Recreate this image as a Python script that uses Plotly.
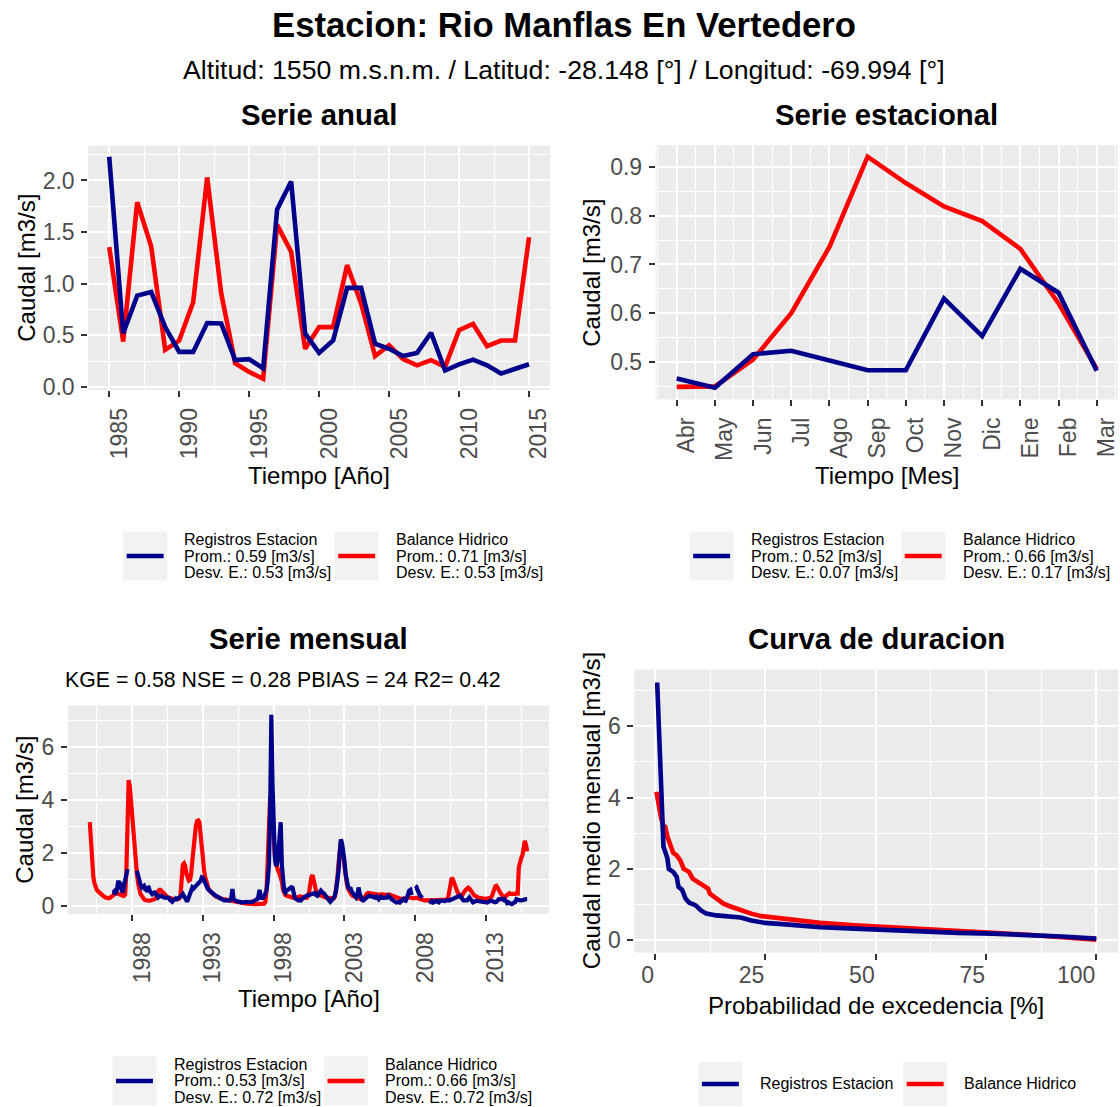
import plotly.graph_objects as go
import pandas as pd

W, H = 1120, 1107          # reference geometry (all positions below are in this pixel space)
FIG_H = 1118               # drawn canvas height (the photograph is rescaled to 1107)
BLUE = '#00008B'
RED = '#FF0000'
FONT = 'Liberation Sans, Arial, sans-serif'
PANEL_BG = '#EBEBEB'

# ---------------- data ----------------
years = list(range(1985, 2016))
annual_obs = [2.23, 0.52, 0.885, 0.92, 0.58, 0.34, 0.34, 0.62, 0.615, 0.26, 0.27, 0.18, 1.72, 1.99, 0.52, 0.33,
              0.45, 0.96, 0.96, 0.42, 0.37, 0.30, 0.33, 0.525, 0.16, 0.22, 0.265, 0.21, 0.13, 0.17, 0.22]
annual_sim = [1.355, 0.44, 1.79, 1.36, 0.36, 0.45, 0.82, 2.03, 0.91, 0.23, 0.146, 0.08, 1.57, 1.31, 0.37, 0.58,
              0.58, 1.18, 0.81, 0.30, 0.405, 0.27, 0.21, 0.26, 0.195, 0.55, 0.61, 0.395, 0.45, 0.45, 1.45]
annual_ticks = [1985, 1990, 1995, 2000, 2005, 2010, 2015]

season_labels = ['Abr', 'May', 'Jun', 'Jul', 'Ago', 'Sep', 'Oct', 'Nov', 'Dic', 'Ene', 'Feb', 'Mar']
season_obs = [0.466, 0.447, 0.516, 0.523, 0.503, 0.483, 0.483, 0.630, 0.553, 0.691, 0.642, 0.482]
season_sim = [0.449, 0.450, 0.505, 0.600, 0.736, 0.921, 0.867, 0.819, 0.789, 0.732, 0.620, 0.486]

N = None
monthly_obs = [
    N, N, N, N, N, N, N, N, N, N, N, N,                                        # 1985
    N, N, N, N, N, N, N, 0.5, 0.5, 0.55, 0.5, 0.6,                            # 1986
    0.88, 0.88, 0.84, 0.6, 0.5, 0.75, 0.95, 1.3, 1.38, N, N, N,               # 1987
    N, N, N, N, 1.32, 1.1, 0.94, 0.8, 0.69, 0.72, 0.75, 0.62,                 # 1988
    0.59, 0.68, 0.69, 0.55, 0.5, 0.44, 0.48, 0.5, 0.45, 0.38, 0.31, 0.35,     # 1989
    0.38, 0.36, 0.33, 0.31, 0.3, 0.31, 0.31, 0.3, 0.22, 0.18, 0.15, 0.2,      # 1990
    0.25, 0.28, 0.25, 0.28, 0.31, 0.31, 0.38, 0.44, 0.35, 0.3, 0.2, 0.2,      # 1991
    0.31, 0.4, 0.55, 0.69, 0.65, 0.7, 0.69, 0.75, 0.82, 0.88, 0.94, 1.07,     # 1992
    1.05, 0.95, 0.82, 0.72, 0.65, 0.6, 0.55, 0.5, 0.5, 0.45, 0.4, 0.38,       # 1993
    0.35, 0.33, 0.3, 0.28, 0.25, 0.22, 0.2, 0.2, 0.2, 0.19, 0.19, 0.2,        # 1994
    0.3, 0.63, 0.25, 0.2, 0.18, 0.17, 0.15, 0.15, 0.14, 0.13, 0.13, 0.15,     # 1995
    0.16, 0.15, 0.14, 0.13, 0.13, 0.15, 0.15, 0.17, 0.18, 0.2, 0.25, 0.35,    # 1996
    0.6, 0.3, 0.28, 0.3, 0.35, 0.45, 0.6, 0.95, 1.6, 3.6, 7.2, 4.6,           # 1997
    2.5, 1.8, 1.5, 1.6, 2.0, 2.8, 3.15, 1.5, 0.7, 0.55, 0.5, 0.6,             # 1998
    0.6, 0.65, 0.69, 0.7, 0.68, 0.4, 0.3, 0.25, 0.22, 0.2, 0.22, 0.2,         # 1999
    0.25, 0.3, 0.31, 0.35, 0.38, 0.4, 0.42, 0.44, 0.45, 0.48, 0.5, 0.48,      # 2000
    0.4, 0.38, 0.45, 0.52, 0.57, 0.52, 0.5, 0.45, 0.38, 0.3, 0.25, 0.2,       # 2001
    0.15, 0.18, 0.25, 0.31, 0.4, 0.6, 0.9, 1.3, 2.0, 2.5, 2.35, 2.1,          # 2002
    1.7, 1.2, 0.9, 0.75, 0.62, 0.69, 0.55, 0.5, 0.42, 0.35, 0.31, 0.4,        # 2003
    0.69, 0.45, 0.3, 0.22, 0.2, 0.25, 0.3, 0.31, 0.35, 0.38, 0.36, 0.35,      # 2004
    0.32, 0.3, 0.31, 0.35, 0.3, 0.25, 0.33, 0.35, 0.3, 0.28, 0.3, 0.31,       # 2005
    0.31, 0.38, 0.36, 0.3, 0.25, 0.22, 0.15, 0.13, 0.12, 0.13, 0.15, 0.12,    # 2006
    0.18, 0.22, 0.25, 0.2, 0.19, 0.3, 0.5, 0.57, 0.6, 0.4, N, N,              # 2007
    0.75, 0.72, 0.6, 0.45, 0.4, 0.35, 0.3, N, N, N, N, N,                     # 2008
    0.19, 0.15, 0.18, 0.12, 0.13, 0.17, 0.19, 0.15, 0.13, 0.19, 0.2, 0.17,    # 2009
    0.19, 0.18, 0.2, 0.2, 0.22, 0.2, 0.23, 0.25, 0.25, 0.28, 0.3, 0.31,       # 2010
    0.3, 0.35, 0.38, 0.3, 0.25, 0.2, 0.2, 0.18, 0.2, 0.25, 0.31, 0.25,        # 2011
    0.18, 0.13, 0.15, 0.19, 0.19, 0.18, 0.17, 0.19, 0.15, 0.13, 0.12, 0.13,   # 2012
    0.12, 0.12, 0.15, 0.19, 0.19, 0.18, 0.15, 0.12, 0.13, 0.15, 0.22, 0.25,   # 2013
    0.25, 0.28, 0.26, 0.22, 0.25, 0.18, 0.1, 0.13, 0.12, 0.08, 0.06, 0.1,     # 2014
    0.12, 0.15, 0.25, 0.22, 0.19, 0.2, 0.2, 0.22, 0.2, 0.22, 0.25, 0.25,      # 2015
]
monthly_sim = [
    3.15, 2.3, 1.6, 1.1, 0.85, 0.7, 0.6, 0.55, 0.5, 0.45, 0.4, 0.36,          # 1985
    0.35, 0.32, 0.3, 0.3, 0.28, 0.3, 0.32, 0.35, 0.4, 0.45, 0.5, 0.48,        # 1986
    0.45, 0.45, 0.42, 0.4, 0.38, 0.37, 0.42, 1.2, 3.3, 4.74, 4.5, 3.9,        # 1987
    3.4, 3.0, 2.3, 1.7, 1.2, 0.85, 0.6, 0.45, 0.38, 0.3, 0.25, 0.22,          # 1988
    0.2, 0.2, 0.19, 0.19, 0.2, 0.2, 0.22, 0.25, 0.3, 0.45, 0.55, 0.6,         # 1989
    0.6, 0.55, 0.5, 0.45, 0.4, 0.35, 0.32, 0.3, 0.28, 0.26, 0.25, 0.25,       # 1990
    0.25, 0.24, 0.24, 0.25, 0.28, 0.4, 1.0, 1.55, 1.6, 1.5, 1.2, 1.0,         # 1991
    0.95, 0.98, 1.2, 1.7, 2.2, 2.6, 3.0, 3.2, 3.22, 3.15, 2.6, 2.07,          # 1992
    1.6, 1.3, 1.07, 0.85, 0.7, 0.6, 0.55, 0.5, 0.45, 0.42, 0.38, 0.35,        # 1993
    0.33, 0.3, 0.28, 0.27, 0.26, 0.25, 0.24, 0.23, 0.22, 0.21, 0.2, 0.2,      # 1994
    0.18, 0.17, 0.16, 0.15, 0.14, 0.13, 0.12, 0.12, 0.11, 0.1, 0.1, 0.1,      # 1995
    0.09, 0.08, 0.08, 0.07, 0.07, 0.07, 0.06, 0.06, 0.06, 0.06, 0.06, 0.06,   # 1996
    0.05, 0.05, 0.05, 0.06, 0.08, 0.15, 0.6, 1.8, 3.5, 4.1, 3.8, 3.0,         # 1997
    2.4, 1.9, 1.6, 1.4, 1.3, 1.2, 1.1, 0.9, 0.6, 0.45, 0.4, 0.38,             # 1998
    0.36, 0.35, 0.33, 0.32, 0.3, 0.3, 0.3, 0.3, 0.32, 0.33, 0.35, 0.35,       # 1999
    0.35, 0.35, 0.33, 0.32, 0.3, 0.35, 0.5, 0.85, 1.1, 1.15, 1.0, 0.75,       # 2000
    0.55, 0.45, 0.42, 0.4, 0.38, 0.36, 0.35, 0.33, 0.32, 0.3, 0.3, 0.3,       # 2001
    0.3, 0.28, 0.27, 0.28, 0.35, 0.6, 1.0, 1.6, 2.1, 2.4, 2.2, 1.8,           # 2002
    1.4, 1.1, 0.85, 0.65, 0.55, 0.48, 0.42, 0.38, 0.35, 0.33, 0.3, 0.28,      # 2003
    0.27, 0.26, 0.25, 0.25, 0.26, 0.3, 0.4, 0.45, 0.48, 0.47, 0.45, 0.45,     # 2004
    0.45, 0.45, 0.44, 0.43, 0.42, 0.42, 0.43, 0.45, 0.45, 0.43, 0.42, 0.4,    # 2005
    0.4, 0.4, 0.42, 0.4, 0.38, 0.36, 0.34, 0.32, 0.3, 0.3, 0.28, 0.27,        # 2006
    0.26, 0.25, 0.25, 0.26, 0.28, 0.3, 0.32, 0.32, 0.3, 0.28, 0.27, 0.28,     # 2007
    0.3, 0.31, 0.3, 0.27, 0.25, 0.22, 0.2, 0.2, 0.2, 0.2, 0.21, 0.21,         # 2008
    0.22, 0.22, 0.21, 0.2, 0.2, 0.2, 0.2, 0.2, 0.21, 0.22, 0.22, 0.23,        # 2009
    0.22, 0.22, 0.23, 0.25, 0.3, 0.55, 0.85, 1.05, 1.0, 0.85, 0.7, 0.6,       # 2010
    0.5, 0.43, 0.4, 0.38, 0.4, 0.5, 0.55, 0.6, 0.65, 0.68, 0.65, 0.58,        # 2011
    0.5, 0.45, 0.4, 0.37, 0.34, 0.32, 0.3, 0.3, 0.28, 0.27, 0.27, 0.26,       # 2012
    0.26, 0.27, 0.28, 0.27, 0.3, 0.35, 0.5, 0.68, 0.73, 0.75, 0.7, 0.6,       # 2013
    0.5, 0.42, 0.35, 0.32, 0.33, 0.38, 0.42, 0.45, 0.47, 0.45, 0.44, 0.44,    # 2014
    0.45, 0.45, 0.48, 0.47, 1.45, 1.7, 1.8, 1.9, 2.1, 2.45, 2.3, 2.05,        # 2015
]
monthly_dates = [d.strftime('%Y-%m-%d') for d in pd.date_range('1985-01-01', '2015-12-01', freq='MS')]
monthly_ticks = ['1988', '1993', '1998', '2003', '2008', '2013']
monthly_minor = ['1985-07-02', '1990-07-02', '1995-07-02', '2000-07-02', '2005-07-02', '2010-07-02', '2015-07-02']

dur_prob_obs = [0.47, 0.78, 1.1, 1.4, 1.6, 1.9, 2.3, 2.8, 3.1, 4.1, 4.9, 5.3, 6.1, 6.9, 7.7, 9.2, 10.4, 11.6,
                13.9, 17.1, 19.4, 21.8, 24.9, 29.6, 37.4, 45.2, 53, 60.9, 68.7, 76.5, 84.4, 92.2, 100]
dur_q_obs = [7.22, 6.26, 5.33, 4.11, 3.27, 2.62, 2.48, 2.29, 2.0, 1.92, 1.78, 1.5, 1.42, 1.17, 1.06, 0.98, 0.84,
             0.75, 0.70, 0.65, 0.64, 0.56, 0.49, 0.45, 0.37, 0.33, 0.28, 0.23, 0.21, 0.19, 0.16, 0.11, 0.05]
dur_prob_sim = [0.3, 0.8, 1.3, 1.8, 2.3, 2.8, 3.4, 4.1, 4.9, 5.7, 6.5, 7.7, 8.5, 9.6, 10.8, 12.0, 12.4, 13.9,
                15.5, 17.1, 19.4, 21.8, 24.1, 26.4, 29.6, 37.4, 45.2, 53, 60.9, 68.7, 76.5, 84.4, 92.2, 100]
dur_q_sim = [4.16, 3.74, 3.46, 3.22, 3.18, 2.9, 2.66, 2.45, 2.38, 2.24, 2.0, 1.92, 1.73, 1.64, 1.54, 1.45, 1.31,
             1.17, 1.03, 0.95, 0.84, 0.75, 0.68, 0.65, 0.58, 0.49, 0.42, 0.36, 0.30, 0.25, 0.21, 0.16, 0.09, 0.02]

series_names = ['Registros Estacion', 'Balance Hidrico']
legend_annual = [['Prom.: 0.59 [m3/s]', 'Desv. E.: 0.53 [m3/s]'], ['Prom.: 0.71 [m3/s]', 'Desv. E.: 0.53 [m3/s]']]
legend_season = [['Prom.: 0.52 [m3/s]', 'Desv. E.: 0.07 [m3/s]'], ['Prom.: 0.66 [m3/s]', 'Desv. E.: 0.17 [m3/s]']]
legend_month = [['Prom.: 0.53 [m3/s]', 'Desv. E.: 0.72 [m3/s]'], ['Prom.: 0.66 [m3/s]', 'Desv. E.: 0.72 [m3/s]']]

# ---------------- helpers ----------------
def px_x(a, b):
    return [a / W, b / W]


def px_y(top, bottom):
    return [1 - bottom / H, 1 - top / H]


def expand(*series, f=0.05):
    vals = [v for s in series for v in s if v is not None]
    lo, hi = min(vals), max(vals)
    d = (hi - lo) * f
    return [lo - d, hi + d]


def axis_style(**kw):
    base = dict(showgrid=True, gridcolor='white', gridwidth=2.2, zeroline=False, showline=False,
                ticks='outside', ticklen=6, tickwidth=2, tickcolor='#333333',
                tickfont=dict(family=FONT, size=23, color='#4D4D4D'), ticklabelstandoff=2,
                fixedrange=True)
    base.update(kw)
    return base


def minor(vals):
    return dict(tickvals=vals, showgrid=True, gridcolor='white', gridwidth=1.1, ticks='')


fig = go.Figure()
LW = 4.6
LWM = 4.2

# Panel 1: annual
fig.add_trace(go.Scatter(x=years, y=annual_sim, mode='lines', line=dict(color=RED, width=LW),
                         name=series_names[1], xaxis='x', yaxis='y'))
fig.add_trace(go.Scatter(x=years, y=annual_obs, mode='lines', line=dict(color=BLUE, width=LW),
                         name=series_names[0], xaxis='x', yaxis='y'))
# Panel 2: seasonal
mon_idx = list(range(1, 13))
fig.add_trace(go.Scatter(x=mon_idx, y=season_sim, mode='lines', line=dict(color=RED, width=LW),
                         name=series_names[1], xaxis='x2', yaxis='y2'))
fig.add_trace(go.Scatter(x=mon_idx, y=season_obs, mode='lines', line=dict(color=BLUE, width=LW),
                         name=series_names[0], xaxis='x2', yaxis='y2'))
# Panel 3: monthly
fig.add_trace(go.Scatter(x=monthly_dates, y=monthly_sim, mode='lines', line=dict(color=RED, width=LWM),
                         name=series_names[1], xaxis='x3', yaxis='y3', connectgaps=False))
fig.add_trace(go.Scatter(x=monthly_dates, y=monthly_obs, mode='lines', line=dict(color=BLUE, width=LWM),
                         name=series_names[0], xaxis='x3', yaxis='y3', connectgaps=False))
# Panel 4: duration curve
fig.add_trace(go.Scatter(x=dur_prob_sim, y=dur_q_sim, mode='lines', line=dict(color=RED, width=LW),
                         name=series_names[1], xaxis='x4', yaxis='y4'))
fig.add_trace(go.Scatter(x=dur_prob_obs, y=dur_q_obs, mode='lines', line=dict(color=BLUE, width=LW),
                         name=series_names[0], xaxis='x4', yaxis='y4'))

# ranges
r1x = expand(years)
r1y = expand(annual_obs, annual_sim)
r2x = expand(mon_idx)
r2y = expand(season_obs, season_sim)
t0 = pd.Timestamp(monthly_dates[0]); t1 = pd.Timestamp(monthly_dates[-1])
span = t1 - t0
r3x = [(t0 - span * 0.05).strftime('%Y-%m-%d %H:%M'), (t1 + span * 0.05).strftime('%Y-%m-%d %H:%M')]
r3y = expand(monthly_obs, monthly_sim)
r4x = expand(dur_prob_obs, dur_prob_sim)
r4y = expand(dur_q_obs, dur_q_sim)

ROT_SHIFT = 10

fig.update_layout(
    width=W, height=FIG_H, margin=dict(l=0, r=0, t=0, b=0), autosize=False,
    paper_bgcolor='white', plot_bgcolor=PANEL_BG, showlegend=False,
    font=dict(family=FONT, color='black'),
    xaxis=axis_style(domain=px_x(88.3, 550.5), anchor='y', range=r1x, tickvals=annual_ticks,
                     ticktext=[str(t) for t in annual_ticks], tickangle=-90, ticklabelshift=ROT_SHIFT,
                     minor=minor([1987.5, 1992.5, 1997.5, 2002.5, 2007.5, 2012.5])),
    yaxis=axis_style(domain=px_y(145.5, 389.5), anchor='x', range=r1y, tickvals=[0, 0.5, 1, 1.5, 2],
                     ticktext=['0.0', '0.5', '1.0', '1.5', '2.0'],
                     minor=minor([0.25, 0.75, 1.25, 1.75, 2.25])),
    xaxis2=axis_style(domain=px_x(656.3, 1118.7), anchor='y2', range=r2x, tickvals=mon_idx,
                      ticktext=season_labels, tickangle=-90, ticklabelshift=ROT_SHIFT,
                      minor=minor([0.5 + i for i in range(13)])),
    yaxis2=axis_style(domain=px_y(145.0, 399.0), anchor='x2', range=r2y, tickvals=[0.5, 0.6, 0.7, 0.8, 0.9],
                      ticktext=['0.5', '0.6', '0.7', '0.8', '0.9'],
                      minor=minor([0.45, 0.55, 0.65, 0.75, 0.85])),
    xaxis3=axis_style(domain=px_x(68.0, 549.5), anchor='y3', range=r3x, type='date',
                      tickvals=[t + '-01-01' for t in monthly_ticks], ticktext=monthly_ticks, tickangle=-90,
                      ticklabelshift=ROT_SHIFT, minor=minor(monthly_minor)),
    yaxis3=axis_style(domain=px_y(704.7, 913.1), anchor='x3', range=r3y, tickvals=[0, 2, 4, 6],
                      ticktext=['0', '2', '4', '6'], minor=minor([1, 3, 5, 7])),
    xaxis4=axis_style(domain=px_x(635.0, 1119.3), anchor='y4', range=r4x, tickvals=[0, 25, 50, 75, 100],
                      ticktext=['0', '25', '50', '75', '100'], ticklabelposition='outside left',
                      minor=minor([12.5, 37.5, 62.5, 87.5])),
    yaxis4=axis_style(domain=px_y(669.0, 951.7), anchor='x4', range=r4y, tickvals=[0, 2, 4, 6],
                      ticktext=['0', '2', '4', '6'], minor=minor([1, 3, 5, 7])),
)

annotations = []
shapes = []


def text(s, x, y, size, bold=False, angle=0, anchor='center'):
    annotations.append(dict(text=('<b>%s</b>' % s) if bold else s, x=x / W, y=1 - y / H,
                            xref='paper', yref='paper', showarrow=False, xanchor=anchor, yanchor='middle',
                            textangle=angle, font=dict(family=FONT, size=size, color='black')))


# titles
text('Estacion: Rio Manflas En Vertedero', 565, 25, 34.7, bold=True)
text('Altitud: 1550 m.s.n.m. / Latitud: -28.148 [°] / Longitud: -69.994 [°]', 565, 70, 26.7)
text('Serie anual', 319.5, 114, 29.3, bold=True)
text('Serie estacional', 887.5, 114, 29.3, bold=True)
text('Serie mensual', 309, 638, 29.3, bold=True)
text('Curva de duracion', 877, 638, 29.3, bold=True)
text('KGE = 0.58 NSE = 0.28 PBIAS = 24 R2= 0.42', 283, 679, 21.3)
# axis titles
text('Tiempo [Año]', 319.5, 475, 24)
text('Tiempo [Mes]', 887.5, 475, 24)
text('Tiempo [Año]', 309, 998, 24)
text('Probabilidad de excedencia [%]', 877, 1005, 24)
text('Caudal [m3/s]', 27, 267.5, 24, angle=-90)
text('Caudal [m3/s]', 592, 272, 24, angle=-90)
text('Caudal [m3/s]', 25, 809, 24, angle=-90)
text('Caudal medio mensual [m3/s]', 592, 810, 24, angle=-90)


def legend_item(x0, y0, w, h, color, lines, text_x):
    shapes.append(dict(type='rect', xref='paper', yref='paper', x0=x0 / W, x1=(x0 + w) / W,
                       y0=1 - (y0 + h) / H, y1=1 - y0 / H, fillcolor='#F2F2F2', line=dict(width=0),
                       layer='above'))
    yc = y0 + h / 2
    shapes.append(dict(type='line', xref='paper', yref='paper', x0=(x0 + 3.5) / W, x1=(x0 + w - 3.5) / W,
                       y0=1 - yc / H, y1=1 - yc / H, line=dict(color=color, width=4.5), layer='above'))
    n = len(lines)
    step = 16.7
    for i, s in enumerate(lines):
        ty = yc + (i - (n - 1) / 2) * step
        text(s, text_x, ty, 16, anchor='left')


def legend_block(dx, y0, stats):
    legend_item(123.3 + dx, y0, 44, 49, BLUE, [series_names[0]] + stats[0], 182.5 + dx)
    legend_item(335.0 + dx, y0, 44, 49, RED, [series_names[1]] + stats[1], 394.5 + dx)


legend_block(0, 531, legend_annual)
legend_block(567.0, 531, legend_season)
legend_block(-10.7, 1055.5, legend_month)
legend_item(699.0, 1061, 44, 44, BLUE, [series_names[0]], 758.3)
legend_item(904.0, 1061, 44, 44, RED, [series_names[1]], 963.3)

fig.update_layout(annotations=annotations, shapes=shapes)

page_css = ("var st=document.createElement('style');"
            "st.innerHTML='html,body{margin:0;padding:0;overflow:hidden;}';"
            "document.head.appendChild(st);")
fig.write_html('out.html', config={'displayModeBar': False, 'responsive': False}, post_script=page_css)
